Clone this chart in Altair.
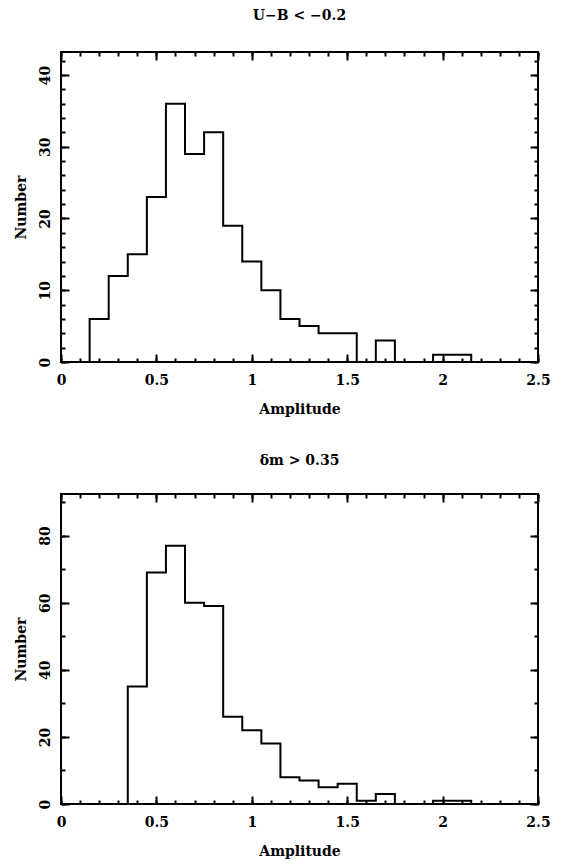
import altair as alt
import pandas as pd

FONT = "DejaVu Serif"
BIN_WIDTH = 0.1

# Top panel: U-B < -0.2
top_title = "U−B < −0.2"
top_bin_left = [0.15, 0.25, 0.35, 0.45, 0.55, 0.65, 0.75, 0.85, 0.95, 1.05,
                1.15, 1.25, 1.35, 1.45, 1.55, 1.65, 1.75, 1.85, 1.95, 2.05]
top_counts = [6, 12, 15, 23, 36, 29, 32, 19, 14, 10,
              6, 5, 4, 4, 0, 3, 0, 0, 1, 1]
top_ymax = 43.2
top_y_major = [0, 10, 20, 30, 40]
top_y_minor = [0, 2, 4, 6, 8, 10, 12, 14, 16, 18, 20, 22, 24, 26, 28, 30,
               32, 34, 36, 38, 40, 42]

# Bottom panel: dm > 0.35
bot_title = "δm > 0.35"
bot_bin_left = [0.35, 0.45, 0.55, 0.65, 0.75, 0.85, 0.95, 1.05, 1.15, 1.25,
                1.35, 1.45, 1.55, 1.65, 1.75, 1.85, 1.95, 2.05]
bot_counts = [35, 69, 77, 60, 59, 26, 22, 18, 8, 7,
              5, 6, 1, 3, 0, 0, 1, 1]
bot_ymax = 92.4
bot_y_major = [0, 20, 40, 60, 80]
bot_y_minor = [0, 10, 20, 30, 40, 50, 60, 70, 80, 90]

x_domain = [0, 2.5]
x_major = [0, 0.5, 1, 1.5, 2, 2.5]
x_minor = [0.0, 0.1, 0.2, 0.3, 0.4, 0.5, 0.6, 0.7, 0.8, 0.9, 1.0, 1.1, 1.2,
           1.3, 1.4, 1.5, 1.6, 1.7, 1.8, 1.9, 2.0, 2.1, 2.2, 2.3, 2.4, 2.5]

MAJOR = 8
MINOR = 4


def step_df(lefts, counts):
    xs = [lefts[0]] + list(lefts) + [lefts[-1] + BIN_WIDTH]
    ys = [0] + list(counts) + [0]
    return pd.DataFrame({"x": xs, "y": ys, "idx": list(range(len(xs)))})


def tick_axis(orient, values, size):
    return alt.Axis(orient=orient, values=values, offset=-size, tickSize=size,
                    ticks=True, labels=False, domain=False, grid=False,
                    title=None, tickColor="black", tickWidth=2)


def panel(lefts, counts, ymax, y_major, y_minor, title, title_offset):
    df = step_df(lefts, counts)
    xs = alt.Scale(domain=x_domain, nice=False, zero=False)
    ys = alt.Scale(domain=[0, ymax], nice=False)

    def layer(mark, xaxis, yaxis):
        return alt.Chart(df).mark_line(**mark).encode(
            x=alt.X("x:Q", scale=xs, axis=xaxis),
            y=alt.Y("y:Q", scale=ys, axis=yaxis),
            order="idx:Q",
        )

    vis = dict(interpolate="step-after", color="black", strokeWidth=2)
    inv = dict(interpolate="step-after", color="black", strokeOpacity=0)

    main = layer(
        vis,
        alt.Axis(orient="bottom", values=x_major, format="~g", ticks=False,
                 tickSize=0, domain=False, grid=False, labelPadding=11,
                 labelFlush=False, title="Amplitude", titlePadding=15),
        alt.Axis(orient="left", values=y_major, ticks=False, tickSize=0,
                 domain=False, grid=False, labelAngle=270, labelAlign="center",
                 labelBaseline="bottom", labelPadding=9, title="Number",
                 titlePadding=10),
    )
    l2 = layer(inv, tick_axis("bottom", x_major, MAJOR), tick_axis("left", y_major, MAJOR))
    l3 = layer(inv, tick_axis("bottom", x_minor, MINOR), tick_axis("left", y_minor, MINOR))
    l4 = layer(inv, tick_axis("top", x_major, MAJOR), tick_axis("right", y_major, MAJOR))
    l5 = layer(inv, tick_axis("top", x_minor, MINOR), tick_axis("right", y_minor, MINOR))

    return alt.layer(main, l2, l3, l4, l5).resolve_axis(
        x="independent", y="independent"
    ).properties(
        width=477, height=310,
        title=alt.TitleParams(title, font=FONT, fontSize=14, fontWeight="bold",
                              color="black", offset=title_offset),
    )


top = panel(top_bin_left, top_counts, top_ymax, top_y_major, top_y_minor, top_title, 28)
bottom = panel(bot_bin_left, bot_counts, bot_ymax, bot_y_major, bot_y_minor, bot_title, 25)

chart = alt.vconcat(top, bottom, spacing=36).properties(
    padding={"left": 5, "top": 0, "right": 5, "bottom": 0}
).configure_view(
    stroke="black", strokeWidth=2
).configure_axis(
    labelFont=FONT, labelFontSize=14, labelFontWeight="bold", labelColor="black",
    titleFont=FONT, titleFontSize=14, titleFontWeight="bold", titleColor="black",
)

chart.save("out.html", embed_options={"renderer": "svg", "actions": False})
